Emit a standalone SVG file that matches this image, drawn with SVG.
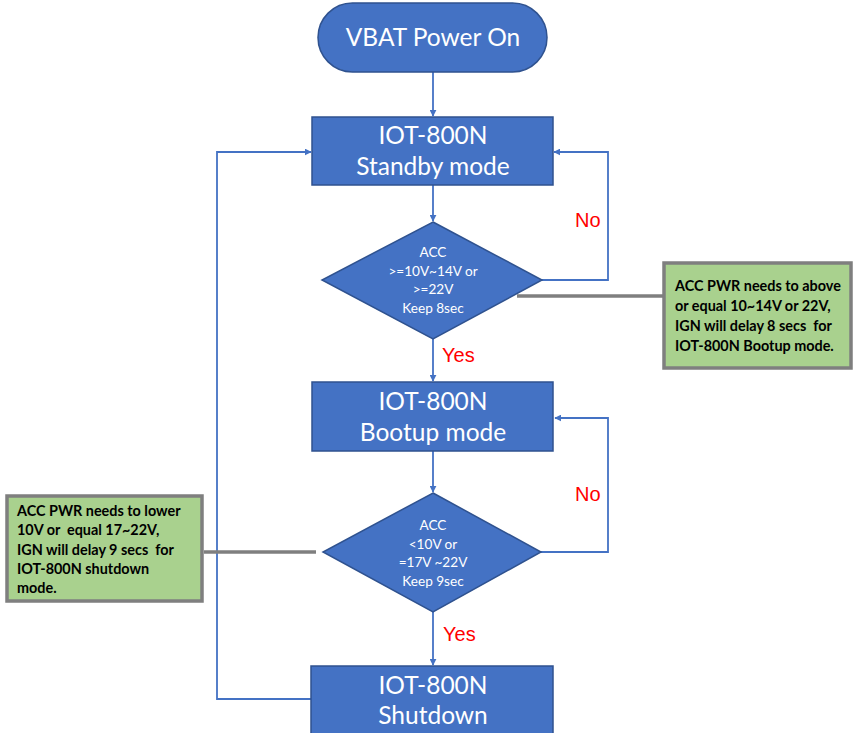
<svg xmlns="http://www.w3.org/2000/svg" width="853" height="733" viewBox="0 0 853 733">
<defs>
<marker id="ah" viewBox="0 0 10 10" refX="9" refY="5" markerWidth="7" markerHeight="7" markerUnits="userSpaceOnUse" orient="auto">
<path d="M0,0 L10,5 L0,10 z" fill="#4472c4"/>
</marker>
<style>
text{white-space:pre}
.shape{fill:#4472c4;stroke:#2f528f;stroke-width:1.5}
.big{font-family:Lato,"Open Sans",sans-serif;font-size:24.5px;fill:#fff;text-anchor:middle}
.small{font-family:Lato,"Open Sans",sans-serif;font-size:13.6px;fill:#fff;text-anchor:middle}
.conn{fill:none;stroke:#4472c4;stroke-width:1.8}
.lab{font-family:"Liberation Sans",Arial,sans-serif;font-size:20px;fill:#ff0000}
.note{fill:#a9d18e;stroke:#7f7f7f;stroke-width:3.5}
.notet{font-family:Lato,"Open Sans",sans-serif;font-size:14.4px;font-weight:bold;fill:#000}
.lead{stroke:#7f7f7f;stroke-width:3.5;fill:none}
</style>
</defs>
<g id="connectors">
<line class="conn" x1="433" y1="72" x2="433" y2="116" marker-end="url(#ah)"/>
<line class="conn" x1="433" y1="185" x2="433" y2="221" marker-end="url(#ah)"/>
<polyline class="conn" points="542,280 608,280 608,152 554,152" marker-end="url(#ah)"/>
<line class="conn" x1="433" y1="339" x2="433" y2="381" marker-end="url(#ah)"/>
<line class="conn" x1="433" y1="451" x2="433" y2="492" marker-end="url(#ah)"/>
<polyline class="conn" points="541,552 608,552 608,418 555,418" marker-end="url(#ah)"/>
<line class="conn" x1="433" y1="612" x2="433" y2="665" marker-end="url(#ah)"/>
<polyline class="conn" points="311,699 217,699 217,152 311,152" marker-end="url(#ah)"/>
<text class="lab" x="575" y="227">No</text>
<text class="lab" x="442" y="362">Yes</text>
<text class="lab" x="575" y="501">No</text>
<text class="lab" x="443" y="641">Yes</text>
<line class="lead" x1="517" y1="296" x2="663" y2="296"/>
<line class="lead" x1="204" y1="552" x2="316" y2="552"/>
</g>
<g id="start">
<rect class="shape" x="318" y="3" width="229" height="69" rx="34.5" ry="34.5"/>
<text class="big" x="433" y="46" font-size="25px">VBAT Power On</text>
</g>
<g id="standby">
<rect class="shape" x="312" y="117" width="241" height="68"/>
<text class="big" x="433" y="144">IOT-800N</text>
<text class="big" x="433" y="175">Standby mode</text>
</g>
<g id="decision1">
<polygon class="shape" points="433,222 542,280 433,339 322,280"/>
<text class="small" x="433" y="257">ACC</text>
<text class="small" x="433" y="276">&gt;=10V~14V or</text>
<text class="small" x="433" y="294">&gt;=22V</text>
<text class="small" x="433" y="313">Keep 8sec</text>
</g>
<g id="bootup">
<rect class="shape" x="312" y="382" width="241" height="69"/>
<text class="big" x="433" y="410">IOT-800N</text>
<text class="big" x="433" y="441">Bootup mode</text>
</g>
<g id="decision2">
<polygon class="shape" points="433,493 541,552 433,612 323,552"/>
<text class="small" x="433" y="530">ACC</text>
<text class="small" x="433" y="549">&lt;10V or</text>
<text class="small" x="433" y="567">=17V ~22V</text>
<text class="small" x="433" y="586">Keep 9sec</text>
</g>
<g id="shutdown">
<rect class="shape" x="311" y="666" width="242" height="80"/>
<text class="big" x="433" y="694">IOT-800N</text>
<text class="big" x="433" y="724">Shutdown</text>
</g>
<g id="note1">
<rect class="note" x="664" y="263" width="187" height="105"/>
<text class="notet" x="675" y="291">ACC PWR needs to above</text>
<text class="notet" x="675" y="311">or equal 10~14V or 22V,</text>
<text class="notet" x="675" y="331">IGN will delay 8 secs  for</text>
<text class="notet" x="675" y="351">IOT-800N Bootup mode.</text>
</g>
<g id="note2">
<rect class="note" x="7" y="496" width="195" height="105"/>
<text class="notet" x="17" y="516">ACC PWR needs to lower</text>
<text class="notet" x="17" y="535">10V or  equal 17~22V,</text>
<text class="notet" x="17" y="555">IGN will delay 9 secs  for</text>
<text class="notet" x="17" y="574">IOT-800N shutdown</text>
<text class="notet" x="17" y="593">mode.</text>
</g>
</svg>
